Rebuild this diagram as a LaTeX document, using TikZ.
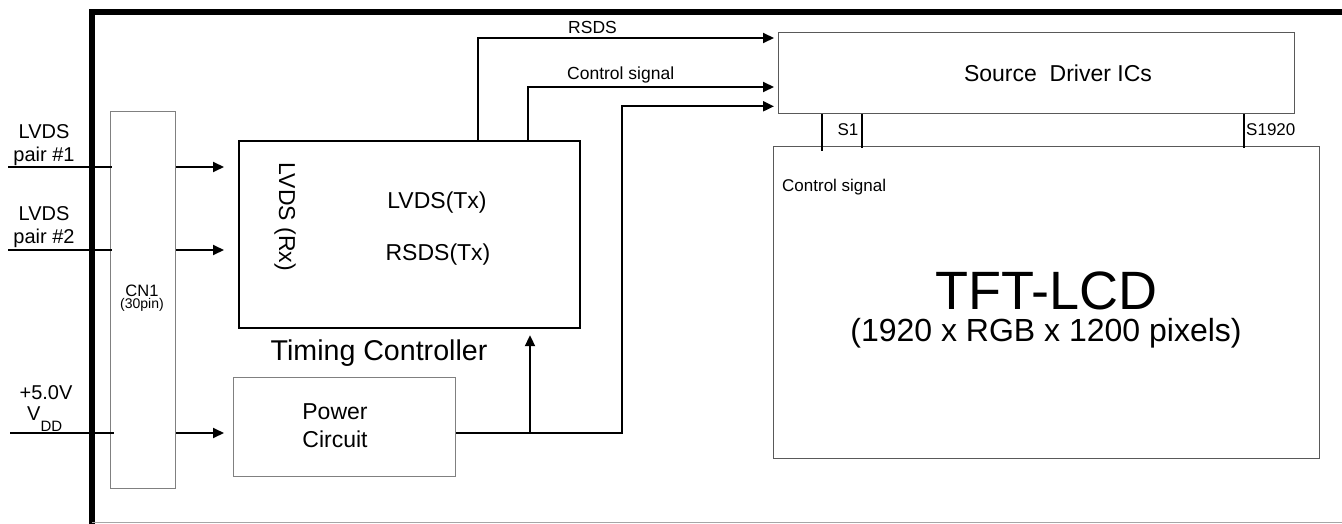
\documentclass[tikz,border=0pt]{standalone}
\usepackage{fontspec}
\setmainfont{Liberation Sans}
\usetikzlibrary{arrows.meta,calc}
\begin{document}
\begin{tikzpicture}[x=1pt,y=-1pt,
  box/.style={draw, inner sep=0pt, anchor=north west},
  thinbox/.style={box, draw=black!50, line width=1.1pt},
  midbox/.style={box, draw=black!65, line width=1.3pt},
  sig/.style={line width=2pt, -{Triangle[length=11pt,width=10pt]}},
  wire/.style={line width=2pt},
  pin/.style={line width=1.8pt},
  txt/.style={inner sep=0pt, font=\fontsize{#1}{#1}\selectfont},
  txt/.default=17,
]
\useasboundingbox (0,0) rectangle (1342,524);

% outer frame
\draw[line width=5.5pt, line join=miter] (92,524) -- (92,12) -- (1342,12);
\draw[black!35, line width=1.5pt] (92,522.5) -- (1342,522.5);

% boxes
\node[thinbox, minimum width=65pt, minimum height=377pt] (cn1) at (110,111) {};
\node[box, line width=2.2pt, minimum width=341pt, minimum height=187pt] (tc) at (238,140) {};
\node[thinbox, minimum width=222pt, minimum height=99pt] (pwr) at (233,377) {};
\node[midbox, minimum width=516pt, minimum height=81pt] (sd) at (778,32) {};
\node[midbox, minimum width=546pt, minimum height=312pt] (tft) at (773,146) {};

% input coordinates
\coordinate (i1) at (8,167);
\coordinate (i2) at (8,250);
\coordinate (i3) at (10,433);
\coordinate (pj) at (622,433);
\coordinate (bj) at (530,433);

% input wires
\draw[wire] (i1) -- ($(cn1.west |- i1)+(2,0)$);
\draw[wire] (i2) -- ($(cn1.west |- i2)+(2,0)$);
\draw[wire] (i3) -- ($(cn1.west |- i3)+(4,0)$);

% CN1 outputs
\draw[sig] (cn1.east |- i1) -- ($(tc.west |- i1)+(-14,0)$);
\draw[sig] (cn1.east |- i2) -- ($(tc.west |- i2)+(-14,0)$);
\draw[sig] (cn1.east |- i3) -- ($(pwr.west |- i3)+(-9,0)$);

% timing controller to source drivers
\draw[sig] ($(tc.north west)+(240,0)$) |- ($(sd.north west)+(-4,6)$);
\draw[sig] ($(tc.north west)+(290,0)$) |- ($(sd.north west)+(-4,55)$);

% power
\draw[sig] (pwr.east |- i3) -- (pj) |- ($(sd.south west)+(-4,-8)$);
\draw[sig] (bj) -- ($(bj |- tc.south)+(0,6)$);

% source outputs
\draw[pin] ($(sd.south west)+(44,0)$) -- ++(0,37);
\draw[pin] ($(sd.south west)+(84,0)$) -- ($(sd.south west)+(84,34)$);
\draw[pin] ($(sd.south west)+(466,0)$) -- ($(sd.south west)+(466,34)$);

% texts
\node[txt=20, align=center] (l1) at (44,145.5) {LVDS\\[3pt]pair \#1};
\node[txt=20, align=center] (l2) at (44,227.5) {LVDS\\[3pt]pair \#2};
\node[txt=20] (v5) at (46,393) {+5.0V};
\node[txt=20, anchor=base west] (vdd) at (27,420) {V\raisebox{-11pt}{\fontsize{15}{15}\selectfont DD}};

\node[txt=16.5] (cn1t) at (142,291) {CN1};
\node[txt=14] (cn1p) at (142,305) {(30pin)};

\node[txt=23, rotate=-90] (lrx) at (285,217) {LVDS (Rx)};
\node[txt=23] (ltx) at (437,203) {LVDS(Tx)};
\node[txt=23] (rtx) at (438,255) {RSDS(Tx)};
\node[txt=28.6] (tct) at (379,353) {Timing Controller};
\node[txt=23, align=center] (pwt) at (335,426) {Power\\[5pt]Circuit};

\node[txt=17.5, anchor=west] (rsds) at (568,27) {RSDS};
\node[txt=17.5, anchor=west] (ctl) at (567,75) {Control signal};

\node[txt=23] (sdt) at (1058,73) {Source\ \ Driver ICs};
\node[txt=17] (s1) at (848,130) {S1};
\node[txt=17, anchor=west] (s1920) at (1246,130) {S1920};
\node[txt=17, anchor=west] (ctl2) at (782,187) {Control signal};
\node[txt=54] (tftt) at (1046,291) {TFT-LCD};
\node[txt=32] (tftp) at (1046,333) {(1920 x RGB x 1200 pixels)};
\end{tikzpicture}
\end{document}
